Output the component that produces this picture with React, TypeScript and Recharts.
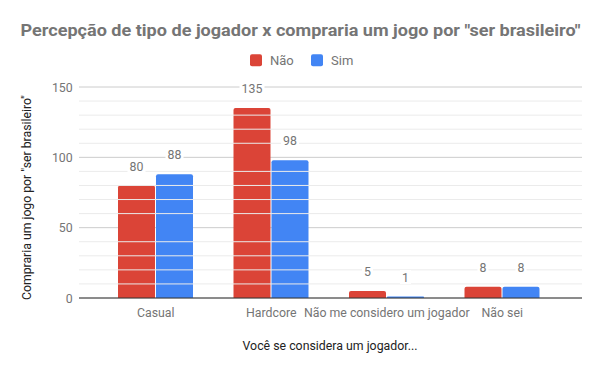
import React from 'react';
import { BarChart, Bar, XAxis, YAxis, CartesianGrid, ReferenceLine, LabelList } from 'recharts';

const categories = ['Casual', 'Hardcore', 'Não me considero um jogador', 'Não sei'];
const naoValues = [80, 135, 5, 8];
const simValues = [88, 98, 1, 8];
const yTicks = [0, 50, 100, 150];
const minorTicks = [10, 20, 30, 40, 60, 70, 80, 90, 110, 120, 130, 140];

const series = [
  { key: 'nao', name: 'Não', color: '#db4437' },
  { key: 'sim', name: 'Sim', color: '#4285f4' },
];

const data = categories.map((c, i) => ({ cat: c, nao: naoValues[i], sim: simValues[i] }));

const FONT = 'Roboto, sans-serif';
const SX = 0.95;

const NText = ({ x, y, anchor = 'middle', fill = '#757575', size = 13, children }: any) => (
  <text
    transform={`translate(${x},${y}) scale(${SX},1)`}
    textAnchor={anchor}
    fontSize={size}
    fill={fill}
    fontFamily={FONT}
  >
    {children}
  </text>
);

const ValueLabel = (props: any) => {
  const { x, y, width, value } = props;
  const cx = x + width / 2;
  const cy = y - 19.5;
  const s = String(value);
  const w = s.length * 7 + 4;
  return (
    <g>
      <rect x={cx - w / 2} y={cy - 7} width={w} height={14} fill="#ffffff" />
      <NText x={cx} y={cy + 4.6}>{s}</NText>
    </g>
  );
};

const XTick = (props: any) => {
  const { x, y, payload } = props;
  return <NText x={x} y={y + 18.5}>{payload.value}</NText>;
};

const YTick = (props: any) => {
  const { y, payload } = props;
  return <NText x={72.7} y={y + 4.6} anchor="end">{payload.value}</NText>;
};

export default function App() {
  return (
    <div style={{ position: 'absolute', left: 0, top: 0, width: 600, height: 371, background: '#fff', fontFamily: FONT }}>
      <BarChart
        width={600}
        height={371}
        data={data}
        margin={{ top: 87, right: 18, left: 0, bottom: 0 }}
        barSize={37}
        barGap={1}
      >
        <CartesianGrid vertical={false} stroke="#cccccc" />
        {minorTicks.map((t) => (
          <ReferenceLine key={t} y={t} stroke="#ebebeb" />
        ))}
        <XAxis
          dataKey="cat"
          height={73}
          padding={{ left: 19, right: 22 }}
          tickLine={false}
          axisLine={{ stroke: '#333333' }}
          tickSize={0}
          tickMargin={0}
          tick={<XTick />}
          interval={0}
        />
        <YAxis
          width={79}
          domain={[0, 150]}
          ticks={yTicks}
          tickLine={false}
          axisLine={false}
          tickSize={0}
          tickMargin={0}
          tick={<YTick />}
        />
        {series.map((s) => (
          <Bar key={s.key} dataKey={s.key} name={s.name} fill={s.color} radius={[2, 2, 0, 0]} isAnimationActive={false}>
            <LabelList dataKey={s.key} content={ValueLabel} />
          </Bar>
        ))}
      </BarChart>
      <svg width={600} height={371} style={{ position: 'absolute', left: 0, top: 0, pointerEvents: 'none' }}>
        <text
          x={300.5}
          y={36}
          textAnchor="middle"
          fontSize={17}
          fontWeight="bold"
          fill="#757575"
          fontFamily={FONT}
          textLength={560}
          lengthAdjust="spacingAndGlyphs"
        >
          Percepção de tipo de jogador x compraria um jogo por "ser brasileiro"
        </text>
        <rect x={250} y={54.3} width={12} height={12} rx={2} fill={series[0].color} />
        <text x={270} y={65} fontSize={13} fill="#757575" fontFamily={FONT}>{series[0].name}</text>
        <rect x={311} y={54.3} width={12} height={12} rx={2} fill={series[1].color} />
        <text x={331} y={65} fontSize={13} fill="#757575" fontFamily={FONT}>{series[1].name}</text>
        <text
          x={31}
          y={197.5}
          transform="rotate(-90 31 197.5)"
          textAnchor="middle"
          fontSize={13}
          fill="#222222"
          fontFamily={FONT}
          textLength={205}
          lengthAdjust="spacingAndGlyphs"
        >
          Compraria um jogo por "ser brasileiro"
        </text>
        <NText x={330} y={349.6} fill="#222222">Você se considera um jogador...</NText>
      </svg>
    </div>
  );
}
